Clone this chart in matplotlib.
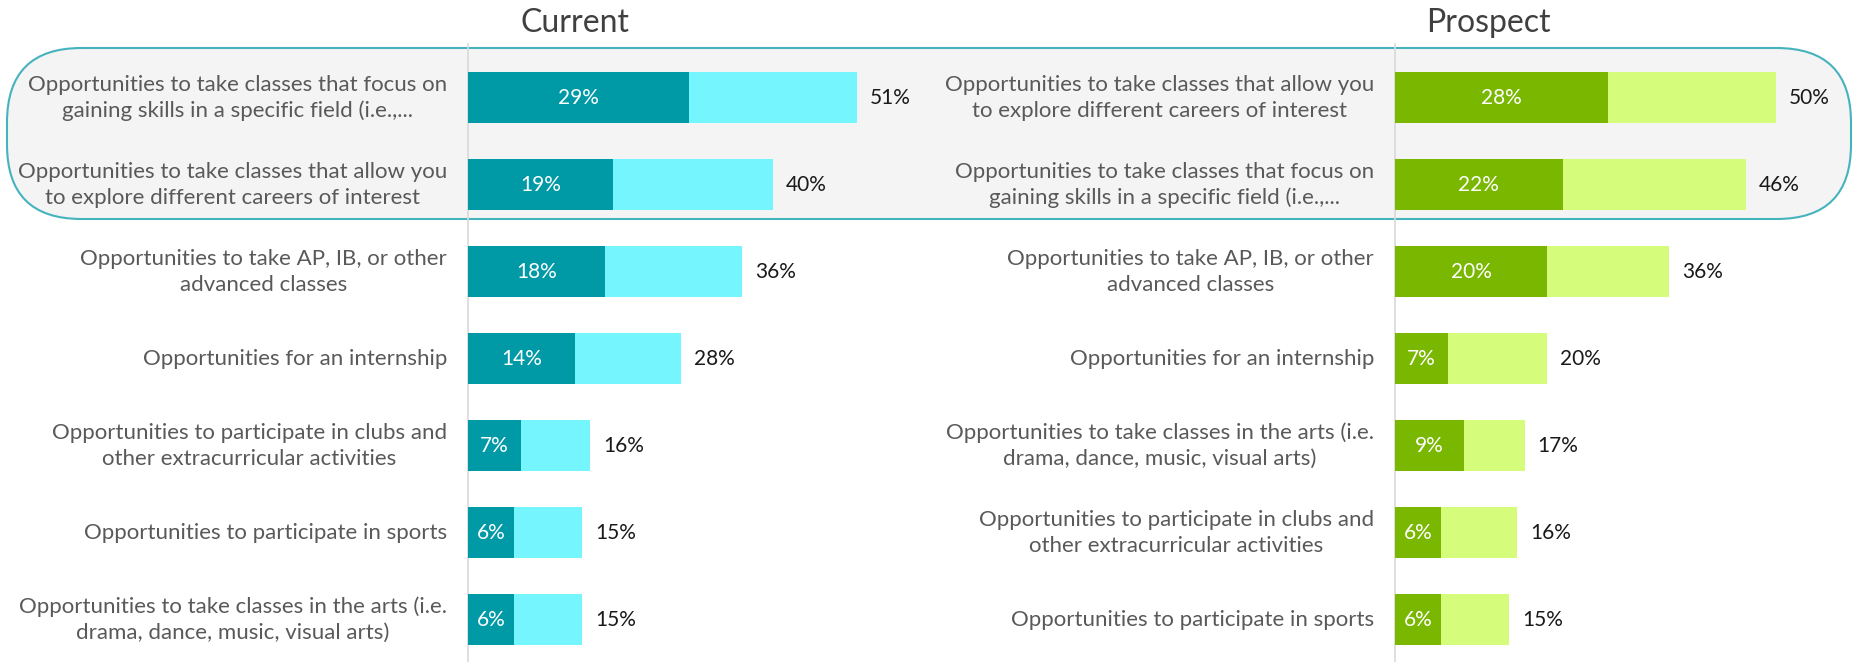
import matplotlib
matplotlib.use("Agg")
import matplotlib.pyplot as plt
from matplotlib.patches import FancyBboxPatch
from matplotlib.transforms import offset_copy

plt.rcParams['font.family'] = ['Lato', 'DejaVu Sans']

# ---- data ----
current_labels = [
    "Opportunities to take classes that focus on\ngaining skills in a specific field (i.e.,...",
    "Opportunities to take classes that allow you\nto explore different careers of interest",
    "Opportunities to take AP, IB, or other\nadvanced classes",
    "Opportunities for an internship",
    "Opportunities to participate in clubs and\nother extracurricular activities",
    "Opportunities to participate in sports",
    "Opportunities to take classes in the arts (i.e.\ndrama, dance, music, visual arts)",
]
current_top = [29, 19, 18, 14, 7, 6, 6]
current_total = [51, 40, 36, 28, 16, 15, 15]

prospect_labels = [
    "Opportunities to take classes that allow you\nto explore different careers of interest",
    "Opportunities to take classes that focus on\ngaining skills in a specific field (i.e.,...",
    "Opportunities to take AP, IB, or other\nadvanced classes",
    "Opportunities for an internship",
    "Opportunities to take classes in the arts (i.e.\ndrama, dance, music, visual arts)",
    "Opportunities to participate in clubs and\nother extracurricular activities",
    "Opportunities to participate in sports",
]
prospect_top = [28, 22, 20, 7, 9, 6, 6]
prospect_total = [50, 46, 36, 20, 17, 16, 15]

W, H = 1859, 662
fig = plt.figure(figsize=(W / 100, H / 100), dpi=100)
fig.patch.set_facecolor('white')

# highlight box behind top two rows
box = FancyBboxPatch((7 / W, (H - 219) / H), (1851 - 7) / W, (219 - 48) / H,
                     boxstyle="round,pad=0,rounding_size=0.04",
                     transform=fig.transFigure, facecolor='#F4F4F4',
                     edgecolor='#45B3BE', linewidth=1.5, zorder=-5,
                     mutation_aspect=W / H)
fig.patches.append(box)

axes_bottom = -0.002
axes_h = (663.5 - 54.5) / H
panels = [
    (468 / W, "Current", 575 / W, current_labels, current_top, current_total, '#0099A6', '#75F5FD'),
    (1395 / W, "Prospect", 1488 / W, prospect_labels, prospect_top, prospect_total, '#79B700', '#D5FC7A'),
]
xmax = 60
axw = (xmax * 7.62) / W
for (x0, title, tx, labels, top, total, dark, light) in panels:
    ax = fig.add_axes([x0, axes_bottom, axw, axes_h])
    ax.patch.set_alpha(0)
    ys = list(range(len(labels)))
    ax.barh(ys, total, height=0.59, color=light, zorder=2)
    ax.barh(ys, top, height=0.59, color=dark, zorder=3)
    ax.set_xlim(0, xmax)
    ax.set_ylim(6.5, -0.5)
    for s in ['top', 'right', 'bottom']:
        ax.spines[s].set_visible(False)
    ax.spines['left'].set_color('#D9D9D9')
    ax.spines['left'].set_linewidth(1.2)
    ax.spines['left'].set_bounds(6.5, -0.62)
    ax.set_xticks([])
    ax.set_yticks([])
    lab_tr = offset_copy(ax.transData, fig=fig, x=-21, y=0, units='dots')
    tot_tr = offset_copy(ax.transData, fig=fig, x=13, y=0, units='dots')
    for y, lab, t, tt in zip(ys, labels, top, total):
        ax.text(0, y, lab, transform=lab_tr, ha='right', va='center',
                multialignment='center', fontsize=16, color='#595959',
                linespacing=1.35)
        ax.text(t / 2, y, f"{t}%", ha='center', va='center', color='white',
                fontsize=15, zorder=4)
        ax.text(tt, y, f"{tt}%", transform=tot_tr, ha='left', va='center',
                color='#1a1a1a', fontsize=15)
    fig.text(tx, 1 - 23 / H, title, ha='center', va='center', fontsize=23,
             color='#404040')

fig.savefig("out.png", dpi=100)
